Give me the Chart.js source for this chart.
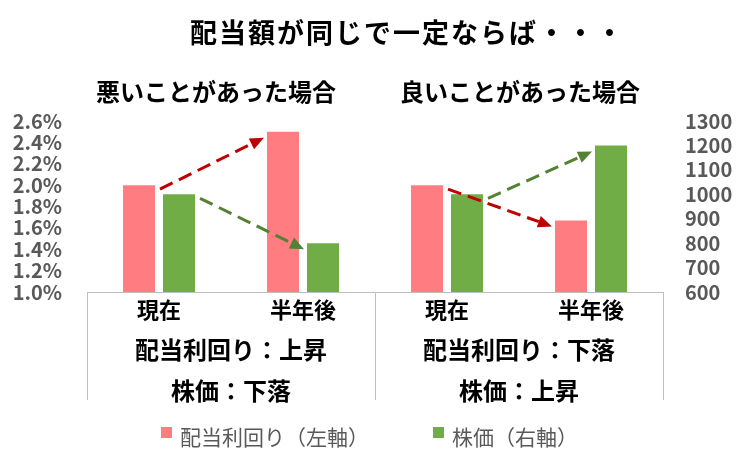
<!DOCTYPE html>
<html lang="ja">
<head>
<meta charset="utf-8">
<title>配当額が同じで一定ならば</title>
<script src="https://cdn.jsdelivr.net/npm/chart.js@4.4.1/dist/chart.umd.min.js"></script>
<style>
  html, body { margin: 0; padding: 0; background: #fff; }
  #wrap { width: 750px; height: 450px; }
</style>
</head>
<body>
<div id="wrap"><canvas id="yieldChart" width="750" height="450"></canvas></div>
<script>
// データ
const chartTitle = '配当額が同じで一定ならば・・・';
const caseTitles = ['悪いことがあった場合', '良いことがあった場合'];
const caseNotes = [
    ['配当利回り：上昇', '株価：下落'],
    ['配当利回り：下落', '株価：上昇']
];
const categories = ['現在', '半年後', '現在', '半年後'];
const seriesLabels = ['配当利回り（左軸）', '株価（右軸）'];
const yieldValues = [2.0, 2.5, 2.0, 1.67];    // %
const priceValues = [1000, 800, 1000, 1200];  // 株価
const yieldRange = [1.0, 2.6, 0.2];           // min, max, pas
const priceRange = [600, 1300, 100];
const arrowPairs = [[0, 1], [2, 3]];          // 現在 -> 半年後

const FONT = '"Noto Sans CJK JP", "Noto Sans", sans-serif';
const GREY = '#595959';
const LINE = '#BFBFBF';
const barColors = ['#FF7C80', '#70AD47'];
const arrowColors = ['#C00000', '#548235'];

Chart.defaults.font.family = FONT;

function drawArrow(ctx, x1, y1, x2, y2, color) {
    const ang = Math.atan2(y2 - y1, x2 - x1);
    const head = 14, half = 6;
    const bx = x2 - head * Math.cos(ang);
    const by = y2 - head * Math.sin(ang);
    ctx.save();
    ctx.strokeStyle = color;
    ctx.fillStyle = color;
    ctx.lineWidth = 3;
    ctx.setLineDash([14, 7]);
    ctx.beginPath();
    ctx.moveTo(x1, y1);
    ctx.lineTo(bx, by);
    ctx.stroke();
    ctx.setLineDash([]);
    ctx.beginPath();
    ctx.moveTo(x2, y2);
    ctx.lineTo(bx + half * Math.sin(ang), by - half * Math.cos(ang));
    ctx.lineTo(bx - half * Math.sin(ang), by + half * Math.cos(ang));
    ctx.closePath();
    ctx.fill();
    ctx.restore();
}

// flèches, titres, notes et légende
const decorations = {
    id: 'decorations',
    afterDatasetsDraw(chart) {
        const ctx = chart.ctx;
        chart.data.datasets.forEach((ds, di) => {
            const bars = chart.getDatasetMeta(di).data;
            arrowPairs.forEach(([from, to]) => {
                const a = bars[from], b = bars[to];
                drawArrow(ctx, a.x + a.width / 2 + 5, a.y + 4,
                    b.x - b.width / 2 - 3, b.y + 6, arrowColors[di]);
            });
        });
    },
    afterDraw(chart) {
        const ctx = chart.ctx;
        const xs = chart.scales.x;
        ctx.save();
        ctx.fillStyle = '#000';
        ctx.textBaseline = 'middle';

        ctx.font = 'bold 27px ' + FONT;
        ctx.letterSpacing = '2px';
        ctx.textAlign = 'left';
        ctx.fillText(chartTitle, 190, 33);
        ctx.letterSpacing = '0px';

        ctx.textAlign = 'center';
        ctx.font = 'bold 24px ' + FONT;
        const titleX = [216, 520];
        caseTitles.forEach((t, i) => ctx.fillText(t, titleX[i], 92));

        caseNotes.forEach((notes, g) => {
            const cx = (xs.getPixelForTick(2 * g) + xs.getPixelForTick(2 * g + 1)) / 2;
            ctx.fillText(notes[0], cx, 350);
            ctx.fillText(notes[1], cx, 391);
        });

        // légende
        const legendX = [161, 433];
        ctx.textAlign = 'left';
        ctx.font = '21px ' + FONT;
        chart.data.datasets.forEach((ds, i) => {
            ctx.fillStyle = ds.backgroundColor;
            ctx.fillRect(legendX[i], 427, 11, 11);
            ctx.fillStyle = GREY;
            ctx.fillText(ds.label, legendX[i] + 19, 437);
        });
        ctx.restore();
    }
};

const yieldChart = new Chart(document.getElementById('yieldChart'), {
    type: 'bar',
    data: {
        labels: categories,
        datasets: [{
            label: seriesLabels[0],
            data: yieldValues,
            backgroundColor: barColors[0],
            yAxisID: 'y',
            categoryPercentage: 0.556,
            barPercentage: 0.8
        }, {
            label: seriesLabels[1],
            data: priceValues,
            backgroundColor: barColors[1],
            yAxisID: 'y1',
            categoryPercentage: 0.556,
            barPercentage: 0.8
        }]
    },
    options: {
        responsive: false,
        animation: false,
        layout: { padding: { top: 121, bottom: 0, left: 0, right: 0 } },
        plugins: {
            legend: { display: false },
            title: { display: false },
            tooltip: { enabled: false }
        },
        scales: {
            x: {
                offset: true,
                grid: {
                    offset: true,
                    drawOnChartArea: false,
                    tickLength: 108,
                    color: c => (c.index === undefined || c.index % 2 === 0) ? LINE : 'rgba(0,0,0,0)'
                },
                border: { display: true, color: LINE },
                ticks: {
                    color: '#000',
                    font: { size: 22, weight: 'bold' },
                    padding: -104,
                    maxRotation: 0,
                    autoSkip: false
                },
                afterFit: s => { s.height = 158; }
            },
            y: {
                position: 'left',
                min: yieldRange[0],
                max: yieldRange[1],
                grid: { display: false, drawTicks: false },
                border: { display: false },
                ticks: {
                    stepSize: yieldRange[2],
                    autoSkip: false,
                    color: GREY,
                    font: { size: 20, weight: 'bold' },
                    padding: 25,
                    callback: v => v.toFixed(1) + '%'
                },
                afterFit: s => { s.width = 87; }
            },
            y1: {
                position: 'right',
                min: priceRange[0],
                max: priceRange[1],
                grid: { display: false, drawTicks: false },
                border: { display: false },
                ticks: {
                    stepSize: priceRange[2],
                    autoSkip: false,
                    color: GREY,
                    font: { size: 20, weight: 'bold' },
                    padding: 22,
                    callback: v => String(v)
                },
                afterFit: s => { s.width = 87; }
            }
        }
    },
    plugins: [decorations]
});
</script>
</body>
</html>
